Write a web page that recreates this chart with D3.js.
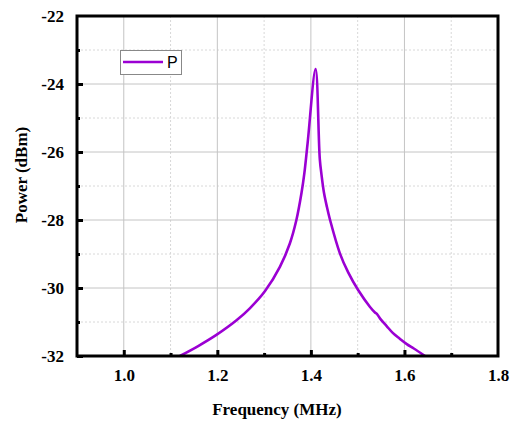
<!DOCTYPE html>
<html>
<head>
<meta charset="utf-8">
<script src="https://cdn.jsdelivr.net/npm/d3@7"></script>
<style>
  body { margin: 0; background: #fff; }
  .tick text { font-family: "Liberation Serif", "Times New Roman", serif; font-weight: bold; font-size: 17px; fill: #000; }
</style>
</head>
<body>
<div class="d3"></div>
<script>
// frequency (MHz) and power (dBm)
const freq = [1.120, 1.160, 1.198, 1.241, 1.270, 1.302, 1.334, 1.355, 1.369, 1.380, 1.386, 1.393,
  1.410, 1.419, 1.423, 1.428, 1.434, 1.441, 1.462, 1.480, 1.501, 1.526,
  1.537, 1.541, 1.548, 1.562, 1.575, 1.590, 1.605, 1.620, 1.644];
const power = [-32.0, -31.70, -31.38, -30.95, -30.59, -30.09, -29.37, -28.69, -28.0, -27.2, -26.63, -25.74,
  -23.56, -26.2, -26.7, -27.2, -27.6, -28.0, -28.98, -29.55, -30.06, -30.55,
  -30.72, -30.76, -30.9, -31.12, -31.32, -31.49, -31.65, -31.78, -32.0];

const xMajor = [1.0, 1.2, 1.4, 1.6, 1.8];
const xMinor = [1.1, 1.3, 1.5, 1.7];
const yMajor = [-32, -30, -28, -26, -24, -22];
const yMinor = [-31, -29, -27, -25, -23];

(() => {
  let width = 510;
  let height = 424;
  let pL = 77, pR = 498, pT = 16, pB = 356;

  let svg = d3.select('.d3').append('svg')
    .attr('width', width)
    .attr('height', height);

  let x = d3.scaleLinear().domain([0.9, 1.8]).range([pL, pR]);
  let y = d3.scaleLinear().domain([-32, -22]).range([pB, pT]);

  // grid
  let grid = svg.append('g');
  grid.selectAll('.vmin').data(xMinor).enter().append('line')
    .attr('x1', d => x(d)).attr('x2', d => x(d)).attr('y1', pT).attr('y2', pB)
    .attr('stroke', '#d8d8d8').attr('stroke-dasharray', '2,2');
  grid.selectAll('.hmin').data(yMinor).enter().append('line')
    .attr('x1', pL).attr('x2', pR).attr('y1', d => y(d)).attr('y2', d => y(d))
    .attr('stroke', '#d8d8d8').attr('stroke-dasharray', '2,2');
  grid.selectAll('.vmaj').data(xMajor.slice(0, -1)).enter().append('line')
    .attr('x1', d => x(d)).attr('x2', d => x(d)).attr('y1', pT).attr('y2', pB)
    .attr('stroke', '#c4c4c4');
  grid.selectAll('.hmaj').data(yMajor.slice(1, -1)).enter().append('line')
    .attr('x1', pL).attr('x2', pR).attr('y1', d => y(d)).attr('y2', d => y(d))
    .attr('stroke', '#c4c4c4');

  // curve
  svg.append('clipPath').attr('id', 'clip').append('rect')
    .attr('x', pL).attr('y', pT).attr('width', pR - pL).attr('height', pB - pT);

  let line = d3.line()
    .x((d, i) => x(freq[i]))
    .y(d => y(d))
    .curve(d3.curveCatmullRom.alpha(0.5));

  svg.append('path')
    .datum(power)
    .attr('clip-path', 'url(#clip)')
    .attr('fill', 'none')
    .attr('stroke', '#9b00d3')
    .attr('stroke-width', 2.6)
    .attr('stroke-linejoin', 'round')
    .attr('d', line);

  // axes
  let xAxis = svg.append('g').attr('transform', `translate(0,${pB})`)
    .call(d3.axisBottom(x).tickValues(xMajor).tickFormat(d3.format('.1f')).tickSizeInner(-6).tickSizeOuter(0).tickPadding(13));
  xAxis.select('.domain').remove();
  xAxis.selectAll('.tick line').attr('stroke-width', 3);
  xAxis.selectAll('.tick').filter(d => d === 1.8).select('line').remove();

  let xMinorAxis = svg.append('g').attr('transform', `translate(0,${pB})`)
    .call(d3.axisBottom(x).tickValues(xMinor).tickFormat('').tickSizeInner(-3).tickSizeOuter(0));
  xMinorAxis.select('.domain').remove();
  xMinorAxis.selectAll('.tick line').attr('stroke-width', 3);

  let yAxis = svg.append('g').attr('transform', `translate(${pL},0)`)
    .call(d3.axisLeft(y).tickValues(yMajor).tickFormat(d => String(d)).tickSizeInner(-6).tickSizeOuter(0).tickPadding(13));
  yAxis.select('.domain').remove();
  yAxis.selectAll('.tick line').attr('stroke-width', 3);
  yAxis.selectAll('.tick').filter(d => d === -22).select('line').remove();

  let yMinorAxis = svg.append('g').attr('transform', `translate(${pL},0)`)
    .call(d3.axisLeft(y).tickValues(yMinor).tickFormat('').tickSizeInner(-3).tickSizeOuter(0));
  yMinorAxis.select('.domain').remove();
  yMinorAxis.selectAll('.tick line').attr('stroke-width', 3);

  // frame
  svg.append('rect')
    .attr('x', pL).attr('y', pT)
    .attr('width', pR - pL).attr('height', pB - pT)
    .attr('fill', 'none').attr('stroke', '#000').attr('stroke-width', 3);

  // titles
  svg.append('text')
    .attr('x', 277).attr('y', 415)
    .attr('text-anchor', 'middle')
    .style('font-family', '"Liberation Serif", "Times New Roman", serif')
    .style('font-weight', 'bold').style('font-size', '17px')
    .text('Frequency (MHz)');

  svg.append('text')
    .attr('transform', 'translate(27,175) rotate(-90)')
    .attr('text-anchor', 'middle')
    .style('font-family', '"Liberation Serif", "Times New Roman", serif')
    .style('font-weight', 'bold').style('font-size', '17px')
    .text('Power (dBm)');

  // legend
  let legend = svg.append('g');
  legend.append('rect')
    .attr('x', 120.5).attr('y', 50.5).attr('width', 61).attr('height', 24)
    .attr('fill', '#fff').attr('stroke', '#888').attr('stroke-width', 1);
  legend.append('line')
    .attr('x1', 123).attr('x2', 163).attr('y1', 62).attr('y2', 62)
    .attr('stroke', '#9b00d3').attr('stroke-width', 2.6);
  legend.append('text')
    .attr('x', 167).attr('y', 68)
    .style('font-family', '"Liberation Sans", Arial, sans-serif')
    .style('font-size', '16px')
    .text('P');
})();
</script>
</body>
</html>
